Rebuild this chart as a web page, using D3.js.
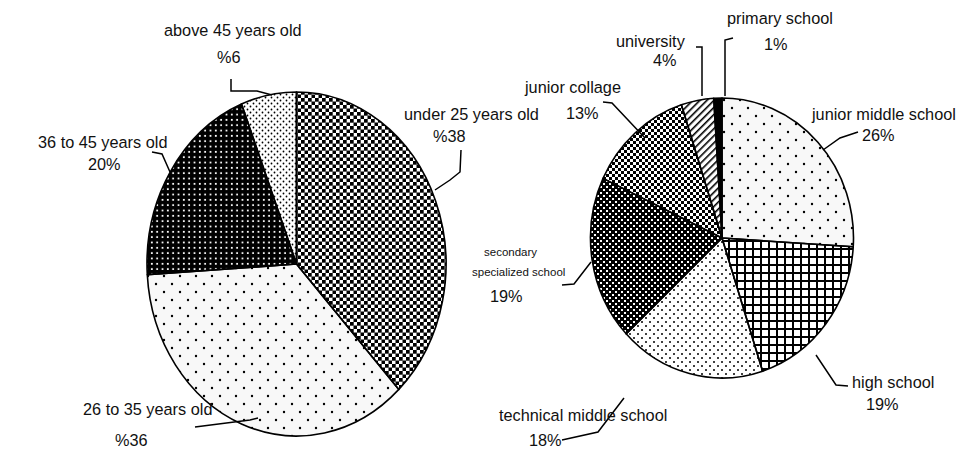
<!DOCTYPE html>
<html><head><meta charset="utf-8">
<script src="https://cdn.jsdelivr.net/npm/d3@7"></script>
<style>body{margin:0;background:#fff}svg{display:block}text{font-family:"Liberation Sans",Arial,sans-serif;fill:#111}</style>
</head><body><svg id="c" width="966" height="454"></svg>
<script>
// ---- data ----
const ageCategories = ["under 25 years old","26 to 35 years old","36 to 45 years old","above 45 years old"];
const ageValues = [38,36,20,6];
const ageValueLabels = ["%38","%36","20%","%6"];
const eduCategories = ["junior middle school","high school","technical middle school","secondary specialized school","junior collage","university","primary school"];
const eduValues = [26,19,18,19,13,4,1];
const eduValueLabels = ["26%","19%","18%","19%","13%","4%","1%"];

// ---- layout (positions / styles, not data) ----
const agePie = {cx:296.5, cy:264, rx:149.5, ry:172, patterns:["pChecker","pSparse","pBlackDots","pDense"]};
const eduPie = {cx:722, cy:238, rx:131.5, ry:140, patterns:["pSparse","pGrid","pMedDots","pDarkHatch","pLightHatch","pDiag","pSolid"]};
const ageLabelPos = [
  {name:[[404,120]], val:[433,142], line:[[435,190],[450,180],[460,172],[461,150]]},
  {name:[[83,415]], val:[115,446], line:[[195,427],[250,420],[258,418]]},
  {name:[[38,148]], val:[88,170], line:[[152,152],[162,154],[170,172]]},
  {name:[[164,36]], val:[217,63], line:[[231,79],[231,91],[257,91],[272,95]]}
];
const eduLabelPos = [
  {name:[[812,120]], val:[862,141], line:[[823,150],[840,138],[858,132]]},
  {name:[[852,388]], val:[866,410], line:[[816,355],[836,385],[848,386]]},
  {name:[[499,421]], val:[529,446], line:[[562,440],[598,432],[624,398]]},
  {name:[[484,256],[472,276]], val:[490,302], small:true, line:[[562,285],[574,284],[591,262]]},
  {name:[[525,93]], val:[566,119], line:[[603,102],[612,103],[645,138]]},
  {name:[[616,47]], val:[653,66], line:[[702,96],[702,47],[696,47]]},
  {name:[[727,24]], val:[764,50], line:[[725,96],[725,40],[733,38]]}
];

const svg = d3.select("#c");
const defs = svg.append("defs");
function pat(id,w,h,bg,draw){
  const p = defs.append("pattern").attr("id",id).attr("patternUnits","userSpaceOnUse").attr("width",w).attr("height",h);
  p.append("rect").attr("width",w).attr("height",h).attr("fill",bg);
  draw(p);
}
const sq = (p,x,y,s,c)=>p.append("rect").attr("x",x).attr("y",y).attr("width",s).attr("height",s).attr("fill",c);
pat("pChecker",7,7,"#fff",p=>{sq(p,0,0,3.7,"#000");sq(p,3.5,3.5,3.7,"#000");});
pat("pSparse",16,16,"#f8f8f8",p=>{p.append("circle").attr("cx",4).attr("cy",4).attr("r",1.2).attr("fill","#000");p.append("circle").attr("cx",12).attr("cy",12).attr("r",1.2).attr("fill","#000");});
pat("pBlackDots",5.33,5.33,"#000",p=>{sq(p,1.7,1.7,1.8,"#fff");});
pat("pDense",6,6,"#fff",p=>{p.append("circle").attr("cx",1.5).attr("cy",1.5).attr("r",0.9).attr("fill","#000");p.append("circle").attr("cx",4.5).attr("cy",4.5).attr("r",0.9).attr("fill","#000");});
pat("pGrid",8,8,"#fff",p=>{p.append("rect").attr("width",2).attr("height",8).attr("fill","#000");p.append("rect").attr("width",8).attr("height",2).attr("fill","#000");});
pat("pMedDots",8,8,"#fff",p=>{p.append("circle").attr("cx",2).attr("cy",2).attr("r",1).attr("fill","#000");p.append("circle").attr("cx",6).attr("cy",6).attr("r",1).attr("fill","#000");});
pat("pDarkHatch",6,6,"#000",p=>{sq(p,0,0,2,"#fff");sq(p,3,3,2,"#fff");});
pat("pLightHatch",6,6,"#fff",p=>{sq(p,0,0,3,"#000");sq(p,3,3,3,"#000");});
pat("pDiag",5,5,"#fff",p=>{p.attr("patternTransform","rotate(45)");p.append("rect").attr("width",1.6).attr("height",5).attr("fill","#000");});
pat("pSolid",4,4,"#000",p=>{});

function drawPie(cfg, cats, values, valueLabels, layout, key){
  const k = cfg.ry/cfg.rx;
  const pie = d3.pie().sort(null).value(d=>d)(values);
  const arc = d3.arc().innerRadius(0).outerRadius(cfg.rx);
  const g = svg.append("g");
  pie.forEach((d,i)=>{
    const cid = key+"clip"+i;
    defs.append("clipPath").attr("id",cid).append("path")
      .attr("d",arc(d)).attr("transform",`translate(${cfg.cx},${cfg.cy}) scale(1,${k})`);
    g.append("rect").attr("x",cfg.cx-cfg.rx-2).attr("y",cfg.cy-cfg.ry-2)
      .attr("width",2*cfg.rx+4).attr("height",2*cfg.ry+4)
      .attr("fill",`url(#${cfg.patterns[i]})`).attr("clip-path",`url(#${cid})`);
  });
  const og = svg.append("g").attr("transform",`translate(${cfg.cx},${cfg.cy}) scale(1,${k})`);
  og.selectAll("path").data(pie).join("path").attr("d",arc)
    .attr("fill","none").attr("stroke","#000").attr("stroke-width",1.6)
    .attr("vector-effect","non-scaling-stroke").attr("stroke-linejoin","round");
  const line = d3.line();
  const lg = svg.append("g");
  cats.forEach((c,i)=>{
    const L = layout[i];
    lg.append("path").attr("d",line(L.line)).attr("fill","none").attr("stroke","#000").attr("stroke-width",1.5);
    let names = L.name.length>1 ? [c.split(" ")[0], c.split(" ").slice(1).join(" ")] : [c];
    names.forEach((t,j)=>{
      lg.append("text").attr("x",L.name[j][0]).attr("y",L.name[j][1]).attr("font-size",L.small?11.5:16.3).text(t);
    });
    lg.append("text").attr("x",L.val[0]).attr("y",L.val[1]).attr("font-size",16.3).text(valueLabels[i]);
  });
}
drawPie(agePie, ageCategories, ageValues, ageValueLabels, ageLabelPos, "a");
drawPie(eduPie, eduCategories, eduValues, eduValueLabels, eduLabelPos, "e");
</script></body></html>
